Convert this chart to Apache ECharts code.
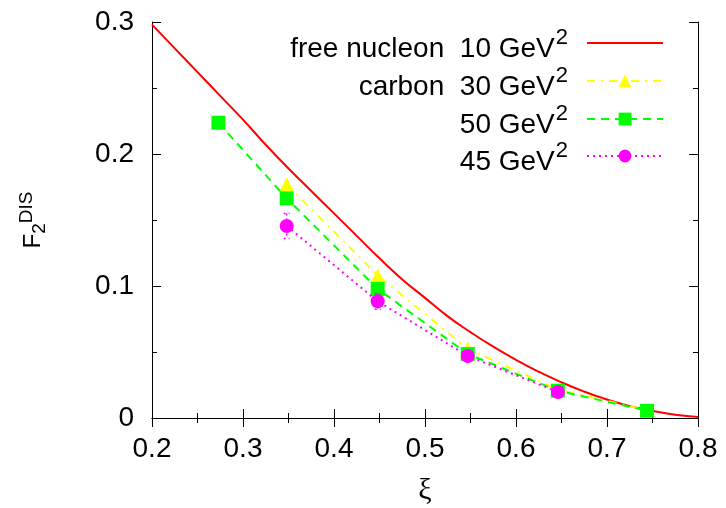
<!DOCTYPE html>
<html><head><meta charset="utf-8">
<script src="https://cdn.jsdelivr.net/npm/echarts@6/dist/echarts.min.js"></script>
<style>html,body{margin:0;padding:0;background:#fff}#c{width:726px;height:508px}</style>
</head><body><div id="c"></div>
<script>
// ---- data ----
const xTicks = [0.2, 0.3, 0.4, 0.5, 0.6, 0.7, 0.8];
const xTickLabels = ['0.2', '0.3', '0.4', '0.5', '0.6', '0.7', '0.8'];
const yTicks = [0, 0.1, 0.2, 0.3];
const yTickLabels = ['0', '0.1', '0.2', '0.3'];
const seriesNames = ['free nucleon 10 GeV2', 'carbon 30 GeV2', '50 GeV2', '45 GeV2'];

// free nucleon, 10 GeV^2 (smooth curve)
const freeX = [0.200, 0.225, 0.250, 0.275, 0.300, 0.325, 0.350, 0.375, 0.400, 0.425, 0.450, 0.475, 0.500,
               0.525, 0.550, 0.575, 0.600, 0.625, 0.650, 0.675, 0.700, 0.725, 0.750, 0.775, 0.800];
const freeY = [0.298, 0.280, 0.262, 0.244, 0.226, 0.207, 0.189, 0.172, 0.155, 0.138, 0.121, 0.105, 0.091,
               0.077, 0.065, 0.054, 0.044, 0.035, 0.027, 0.020, 0.014, 0.009, 0.0055, 0.0025, 0.0008];
// carbon 30 GeV^2
const c30X = [0.348, 0.448, 0.547, 0.646, 0.744];
const c30Y = [0.177, 0.108, 0.0525, 0.0215, 0.006];
// 50 GeV^2
const c50X = [0.273, 0.348, 0.448, 0.547, 0.646, 0.744];
const c50Y = [0.2237, 0.1664, 0.0978, 0.0485, 0.0207, 0.0055];
// 45 GeV^2
const c45X = [0.348, 0.448, 0.547, 0.646];
const c45Y = [0.1455, 0.0884, 0.047, 0.0197];
const c45Err = [0.0095, 0.006, 0.004, 0.003];

// ---- chart ----
const FONT = 'Liberation Sans, Arial, sans-serif';
const zip = (xs, ys) => xs.map((x, i) => [x, ys[i]]);
const lbl = (ticks, labels) => v => {
  const i = ticks.findIndex(t => Math.abs(t - v) < 1e-9);
  return i >= 0 ? labels[i] : '';
};
const legendText = {
  'free nucleon 10 GeV2': '{b|free nucleon  10 GeV}{sup|2}',
  'carbon 30 GeV2': '{b|carbon  30 GeV}{sup|2}',
  '50 GeV2': '{b|50 GeV}{sup|2}',
  '45 GeV2': '{b|45 GeV}{sup|2}'
};
const richLegend = {
  b: { fontSize: 28, fontFamily: FONT, color: '#000', padding: [12, 0, 0, 0] },
  sup: { fontSize: 22, fontFamily: FONT, color: '#000', padding: [0, 0, 10, 1] }
};
const rowCenters = [47, 85, 123, 160];

const axisCommon = {
  type: 'value',
  axisLine: { show: true, lineStyle: { color: '#000', width: 1 } },
  axisTick: { show: true, inside: true, length: 9, lineStyle: { color: '#000' } },
  minorTick: { show: true, splitNumber: 2, length: 5, lineStyle: { color: '#000' } },
  splitLine: { show: false },
  minorSplitLine: { show: false }
};

const chart = echarts.init(document.getElementById('c'), null, { renderer: 'canvas' });
chart.setOption({
  animation: false,
  backgroundColor: '#fff',
  grid: { left: 152, right: 28, top: 22, bottom: 90, containLabel: false, outerBoundsMode: 'none' },
  xAxis: [
    Object.assign({}, axisCommon, {
      min: 0.2, max: 0.8, interval: 0.1, position: 'bottom',
      name: 'ξ', nameLocation: 'middle', nameGap: 58,
      nameTextStyle: { fontSize: 30, fontFamily: 'Liberation Serif, DejaVu Serif, serif', color: '#000' },
      axisLabel: { formatter: lbl(xTicks, xTickLabels), fontSize: 28, fontFamily: FONT, color: '#000', margin: 17 }
    }),
    Object.assign({}, axisCommon, {
      min: 0.2, max: 0.8, interval: 0.1, position: 'top', axisLabel: { show: false }
    })
  ],
  yAxis: [
    Object.assign({}, axisCommon, {
      min: 0, max: 0.3, interval: 0.1, position: 'left',
      name: '{b|F}{sub|2}{sup|DIS}', nameLocation: 'middle', nameGap: 102,
      nameTextStyle: {
        fontSize: 24, fontFamily: FONT, color: '#000',
        rich: {
          b: { fontSize: 24, fontFamily: FONT, color: '#000' },
          sub: { fontSize: 19, fontFamily: FONT, color: '#000', padding: [12, 0, 0, 0] },
          sup: { fontSize: 19, fontFamily: FONT, color: '#000', padding: [0, 0, 14, 0] }
        }
      },
      axisLabel: { formatter: lbl(yTicks, yTickLabels), fontSize: 28, fontFamily: FONT, color: '#000', margin: 18 }
    }),
    Object.assign({}, axisCommon, {
      min: 0, max: 0.3, interval: 0.1, position: 'right', axisLabel: { show: false }
    })
  ],
  legend: seriesNames.map((n, i) => ({
    data: [n],
    orient: 'vertical',
    align: 'right',
    right: 62,
    top: rowCenters[i] - 20,
    padding: 0,
    itemWidth: 76,
    itemHeight: 16,
    selectedMode: false,
    formatter: name => legendText[name],
    itemStyle: i === 0 ? { opacity: 0 } : {},
    textStyle: { fontSize: 28, fontFamily: FONT, color: '#000', padding: [0, 14, 0, 0], rich: richLegend }
  })),
  series: [
    {
      name: seriesNames[0], type: 'line', data: zip(freeX, freeY), smooth: true,
      symbol: 'none', lineStyle: { color: '#ff0000', width: 2 }, itemStyle: { color: '#ff0000' }, z: 2
    },
    {
      name: seriesNames[1], type: 'line', data: zip(c30X, c30Y),
      symbol: 'triangle', symbolSize: 14,
      lineStyle: { color: '#ffff00', width: 2, type: [8, 6, 2, 6] },
      itemStyle: { color: '#ffff00' }, z: 3
    },
    {
      name: seriesNames[2], type: 'line', data: zip(c50X, c50Y),
      symbol: 'rect', symbolSize: 14,
      lineStyle: { color: '#00ff00', width: 2, type: [8, 6] },
      itemStyle: { color: '#00ff00' }, z: 4
    },
    {
      name: seriesNames[3] + ' err', type: 'custom',
      data: c45X.map((x, i) => [x, c45Y[i] - c45Err[i], c45Y[i] + c45Err[i]]),
      renderItem: (params, api) => {
        const x = api.value(0);
        const pLo = api.coord([x, api.value(1)]);
        const pHi = api.coord([x, api.value(2)]);
        const w = 3;
        const st = { stroke: '#ff00ff', lineWidth: 1.5, lineDash: [2, 3] };
        return {
          type: 'group', children: [
            { type: 'line', shape: { x1: pHi[0], y1: pHi[1], x2: pLo[0], y2: pLo[1] }, style: st },
            { type: 'line', shape: { x1: pHi[0] - w, y1: pHi[1], x2: pHi[0] + w, y2: pHi[1] }, style: st },
            { type: 'line', shape: { x1: pLo[0] - w, y1: pLo[1], x2: pLo[0] + w, y2: pLo[1] }, style: st }
          ]
        };
      },
      z: 5
    },
    {
      name: seriesNames[3], type: 'line', data: zip(c45X, c45Y),
      symbol: 'circle', symbolSize: 14,
      lineStyle: { color: '#ff00ff', width: 2, type: [2, 4] },
      itemStyle: { color: '#ff00ff' }, z: 6
    }
  ]
});
</script>
</body></html>
